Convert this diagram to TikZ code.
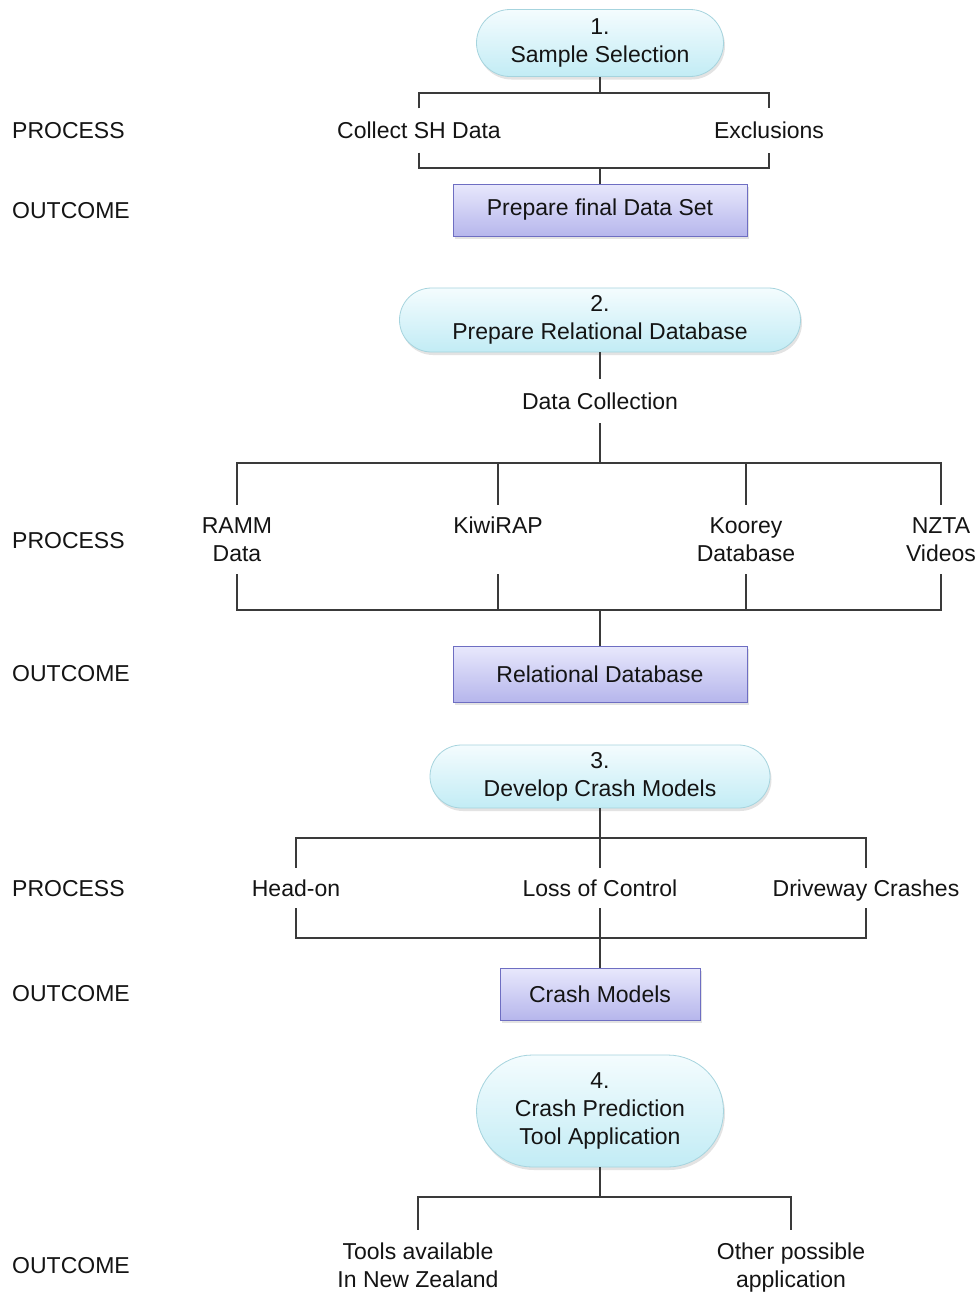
\documentclass[tikz,border=0pt]{standalone}
\usepackage{fontspec}
\setmainfont{Liberation Sans}
\usetikzlibrary{shapes.misc,shadows}
\definecolor{pilltop}{HTML}{F4FCFE}
\definecolor{pillbot}{HTML}{C2ECF5}
\definecolor{pillline}{HTML}{A6D4DE}
\definecolor{boxtop}{HTML}{E8E8FC}
\definecolor{boxbot}{HTML}{B6B6EC}
\definecolor{boxline}{HTML}{6E6EC2}
\definecolor{conncol}{HTML}{3A3A3A}
\definecolor{txt}{HTML}{141414}
\begin{document}
\begin{tikzpicture}[x=1pt,y=-1pt,
  every node/.style={font=\fontsize{23}{28}\selectfont, text=txt},
  pill/.style={rounded rectangle, draw=pillline, line width=0.8pt, top color=pilltop, bottom color=pillbot, align=center, inner sep=0pt, drop shadow={opacity=0.22, shadow xshift=1.5pt, shadow yshift=-3pt}},
  outbox/.style={rectangle, draw=boxline, line width=0.8pt, top color=boxtop, bottom color=boxbot, inner sep=0pt, drop shadow={opacity=0.22, shadow xshift=1.5pt, shadow yshift=-3pt}},
  lab1/.style={inner sep=0pt, text height=16.5pt, text depth=0pt, minimum height=44pt},
  lab2/.style={align=center, inner sep=0pt, minimum height=69pt},
  side/.style={anchor=west, inner sep=0pt, text height=16.5pt, text depth=0pt},
  conn/.style={draw=conncol, line width=1.1pt}
]
\fill[white] (0,0) rectangle (978,1293);
\useasboundingbox (0,0) rectangle (978,1293);

% ---------- Section 1
\node[pill, minimum width=247pt, minimum height=67pt] (p1) at (600,43) {1.\\Sample Selection};
\coordinate (j1) at (600,93);
\node[lab1] (a1) at (419,130.5) {Collect SH Data};
\node[lab1] (a2) at (769,130.5) {Exclusions};
\coordinate (k1) at (600,168);
\node[outbox, minimum width=294pt, minimum height=52pt] (b1) at (600,210) {Prepare final Data Set};
\draw[conn] (p1.south) -- (j1);
\draw[conn] (a1.north) |- (j1) -| (a2.north);
\draw[conn] (a1.south) |- (k1) -| (a2.south);
\draw[conn] (k1) -- (b1.north);
\node[side] (pr1) at (12,130.5) {PROCESS};
\node[side] (ou1) at (12,210) {OUTCOME};

% ---------- Section 2
\node[pill, minimum width=401pt, minimum height=64pt] (p2) at (600,320) {2.\\Prepare Relational Database};
\node[lab1] (dc) at (600,401) {Data Collection};
\coordinate (j2) at (600,463);
\node[lab2] (ramm) at (237,539.5) {RAMM\\Data};
\node[lab2] (kiwi) at (498,539.5) {KiwiRAP\\\phantom{D}};
\node[lab2] (koorey) at (746,539.5) {Koorey\\Database};
\node[lab2] (nzta) at (941,539.5) {NZTA\\Videos};
\coordinate (k2) at (600,610);
\node[outbox, minimum width=294pt, minimum height=56pt] (b2) at (600,674) {Relational Database};
\draw[conn] (p2.south) -- (dc.north);
\draw[conn] (dc.south) -- (j2);
\draw[conn] (ramm.north) |- (j2) -| (nzta.north);
\draw[conn] (kiwi.north) -- (kiwi.north |- j2);
\draw[conn] (koorey.north) -- (koorey.north |- j2);
\draw[conn] (ramm.south) |- (k2) -| (nzta.south);
\draw[conn] (kiwi.south) -- (kiwi.south |- k2);
\draw[conn] (koorey.south) -- (koorey.south |- k2);
\draw[conn] (k2) -- (b2.north);
\node[side] (pr2) at (12,540) {PROCESS};
\node[side] (ou2) at (12,673) {OUTCOME};

% ---------- Section 3
\node[pill, minimum width=340pt, minimum height=63pt] (p3) at (600,776.5) {3.\\Develop Crash Models};
\coordinate (j3) at (600,838);
\node[lab1, minimum height=40pt] (ho) at (296,888) {Head-on};
\node[lab1, minimum height=40pt] (loc) at (600,888) {Loss of Control};
\node[lab1, minimum height=40pt] (dw) at (866,888) {Driveway Crashes};
\coordinate (k3) at (600,938);
\node[outbox, minimum width=200pt, minimum height=52pt] (b3) at (600,994) {Crash Models};
\draw[conn] (p3.south) -- (loc.north);
\draw[conn] (ho.north) |- (j3) -| (dw.north);
\draw[conn] (ho.south) |- (k3) -| (dw.south);
\draw[conn] (loc.south) -- (b3.north);
\node[side] (pr3) at (12,888) {PROCESS};
\node[side] (ou3) at (12,993) {OUTCOME};

% ---------- Section 4
\node[pill, minimum width=247pt, minimum height=112pt] (p4) at (600,1111) {4.\\Crash Prediction\\Tool Application};
\coordinate (j4) at (600,1197);
\node[lab2, minimum height=70pt] (tools) at (418,1265) {Tools available\\In New Zealand};
\node[lab2, minimum height=75pt] (other) at (791,1267.5) {Other possible\\application};
\draw[conn] (p4.south) -- (j4);
\draw[conn] (tools.north) |- (j4) -| (other.north);
\node[side] (ou4) at (12,1265) {OUTCOME};
\end{tikzpicture}
\end{document}
